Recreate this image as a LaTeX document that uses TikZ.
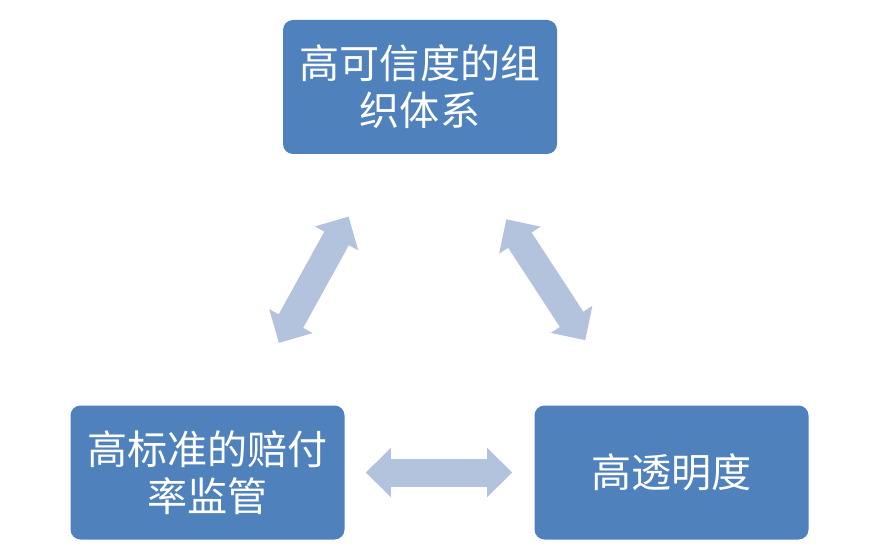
\documentclass[tikz,border=0pt]{standalone}
\usepackage{fontspec}
\newfontfamily\cjk{Noto Sans CJK SC}
\usetikzlibrary{arrows.meta, positioning}
\definecolor{boxBlue}{HTML}{4F81BD}
\definecolor{arrowBlue}{HTML}{B3C3DE}
\tikzstyle{recNode} = [rectangle, minimum width=5.48cm, minimum height=2.68cm, align=center, rounded corners=0.2cm]
\tikzstyle{recNodeB} = [recNode, fill=boxBlue, text=white, font=\cjk\fontsize{22.8pt}{26.8pt}\selectfont]
\tikzstyle{arrowB} = [line width=0.56cm, draw=arrowBlue, {Triangle[length=0.5cm,width=0.96cm]}-{Triangle[length=0.5cm,width=0.96cm]}]

\begin{document}
\begin{tikzpicture}[node distance=7.71cm]
        \useasboundingbox (0,0) rectangle (17.5,-11.12);
        \node (org) [recNodeB] at (8.4,-1.74) {高可信度的组\\织体系};
        \node (pay) [recNodeB, below of=org, xshift=-4.25cm] {高标准的赔付\\率监管};
        \node (open) [recNodeB, below of=org, xshift=5.03cm] {高透明度};

        \draw [arrowB, shorten <=1.42cm, shorten >=1.42cm] (org) -- (pay);
        \draw [arrowB, shorten <=1.55cm, shorten >=1.55cm] (org) -- (open);
        \draw [arrowB, shorten <=0.42cm, shorten >=0.44cm] (pay) -- (open);
    \end{tikzpicture}
\end{document}
